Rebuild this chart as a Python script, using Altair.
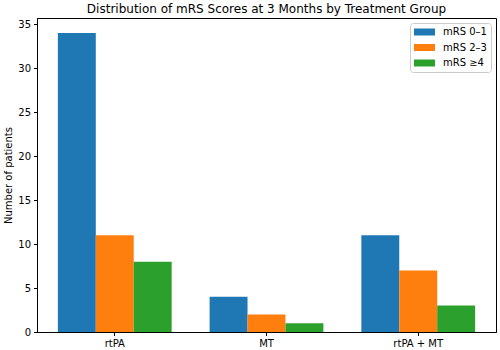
import altair as alt
import pandas as pd

groups = ["rtPA", "MT", "rtPA + MT"]
categories = ["mRS 0–1", "mRS 2–3", "mRS ≥4"]
mrs_0_1 = [34, 4, 11]
mrs_2_3 = [11, 2, 7]
mrs_4_plus = [8, 1, 3]
colors = ["#1f77b4", "#ff7f0e", "#2ca02c"]

rows = []
for cat, vals in zip(categories, [mrs_0_1, mrs_2_3, mrs_4_plus]):
    for g, v in zip(groups, vals):
        rows.append({"group": g, "cat": cat, "count": v})
df = pd.DataFrame(rows)

FONT = "DejaVu Sans"

chart = alt.Chart(df).mark_bar().encode(
    x=alt.X(
        "group:N",
        sort=groups,
        title=None,
        scale=alt.Scale(paddingInner=0.25, paddingOuter=0.1375),
        axis=alt.Axis(labelAngle=0),
    ),
    xOffset=alt.XOffset(
        "cat:N", sort=categories, scale=alt.Scale(paddingInner=0, paddingOuter=0)
    ),
    y=alt.Y(
        "count:Q",
        title="Number of patients",
        scale=alt.Scale(domain=[0, 35.7], nice=False, zero=True),
        axis=alt.Axis(values=[0, 5, 10, 15, 20, 25, 30, 35]),
    ),
    color=alt.Color(
        "cat:N",
        sort=categories,
        scale=alt.Scale(domain=categories, range=colors),
        legend=alt.Legend(
            title=None,
            orient="top-right",
            offset=5,
            fillColor="white",
            strokeColor="#cccccc",
            cornerRadius=3,
            padding=4,
            symbolType="M-1,-0.7H3.2V0.7H-1Z",
            symbolSize=100,
            symbolStrokeWidth=0,
            labelFont=FONT,
            labelFontSize=10,
            labelColor="black",
            rowPadding=5.5,
            labelOffset=19,
        ),
    ),
).properties(
    width=459,
    height=314,
    title=alt.TitleParams(
        "Distribution of mRS Scores at 3 Months by Treatment Group",
        font=FONT,
        fontSize=12,
        fontWeight="normal",
        color="black",
        offset=2,
    ),
    padding={"left": 37, "top": 18, "right": 4, "bottom": 18},
    autosize=alt.AutoSizeParams(type="none"),
).configure_view(
    stroke="black", strokeWidth=1
).configure_axis(
    domainColor="black",
    tickColor="black",
    tickSize=3.5,
    labelColor="black",
    labelFont=FONT,
    labelFontSize=10,
    titleFont=FONT,
    titleFontSize=10,
    titleFontWeight="normal",
    titleColor="black",
    grid=False,
    labelPadding=3,
)

chart.save("out.html", embed_options={"renderer": "svg", "actions": False})
